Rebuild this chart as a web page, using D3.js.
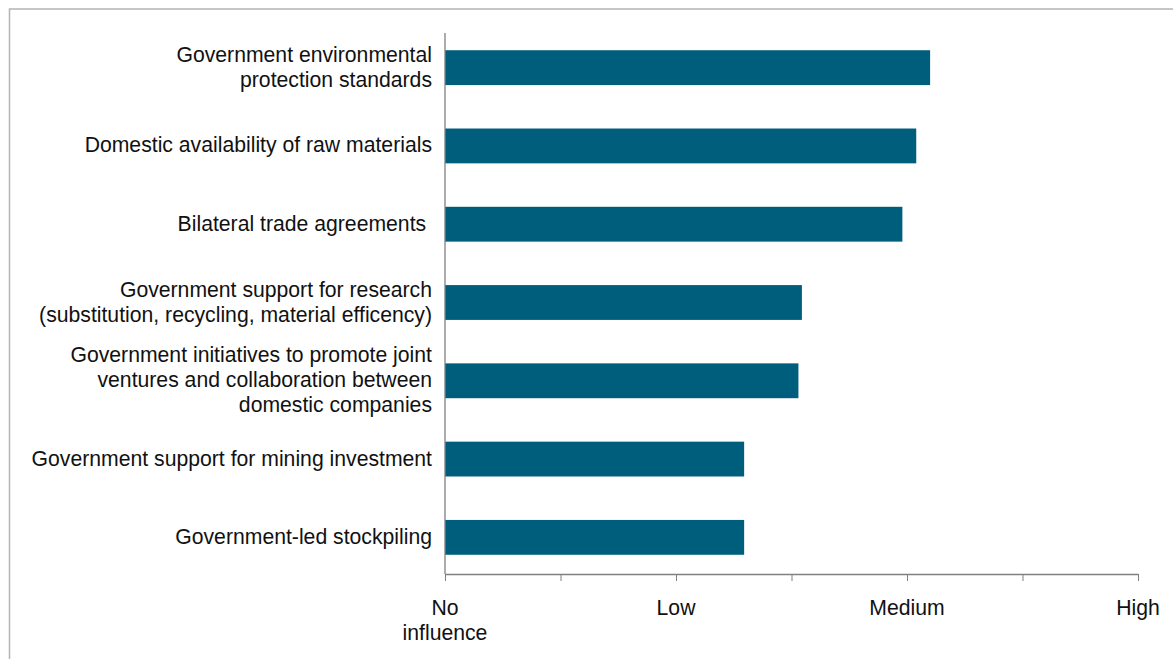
<!DOCTYPE html>
<html lang="en">
<head>
    <meta charset="UTF-8">
    <title>Policy influence</title>
    <script src="https://d3js.org/d3.v7.min.js"></script>
    <style>
        body { margin: 0; background: #fff; }
        text { font-family: "Liberation Sans", Arial, sans-serif; fill: #111; }
        .axis path, .axis line { stroke: #808080; }
    </style>
</head>
<body>
<script>
    const width = 1173;
    const height = 659;

    // categories (each entry = lines of the label), top to bottom
    const categories = [
        ["Government environmental", "protection standards"],
        ["Domestic availability of raw materials"],
        ["Bilateral trade agreements "],
        ["Government support for research", "(substitution, recycling, material efficency)"],
        ["Government initiatives to promote joint", "ventures and collaboration between", "domestic companies"],
        ["Government support for mining investment"],
        ["Government-led stockpiling"]
    ];
    // 0 = no influence, 1 = low, 2 = medium, 3 = high
    const values = [2.1, 2.04, 1.98, 1.545, 1.53, 1.295, 1.295];
    const tickValues = [0, 0.5, 1, 1.5, 2, 2.5, 3];
    const tickLabels = {0: ["No", "influence"], 1: ["Low"], 2: ["Medium"], 3: ["High"]};

    const fontSize = 21.2;

    const svg = d3.select("body").append("svg")
        .attr("width", width)
        .attr("height", height);

    // outer frame
    svg.append("rect")
        .attr("x", 9.5).attr("y", 9)
        .attr("width", width).attr("height", height)
        .attr("fill", "none")
        .attr("stroke", "#b4b4b4")
        .attr("stroke-width", 1.5);

    const x = d3.scaleLinear().domain([0, 3]).range([445, 1138]);
    const y = d3.scaleBand()
        .domain(d3.range(categories.length))
        .range([28.5, 576.5])
        .paddingInner(0.555)
        .paddingOuter(0.2775);

    const axisY = 574;

    svg.selectAll("rect.bar")
        .data(values)
        .enter().append("rect")
        .attr("class", "bar")
        .attr("x", x(0))
        .attr("y", (d, i) => y(i))
        .attr("width", d => x(d) - x(0))
        .attr("height", y.bandwidth())
        .attr("fill", "#005e7d");

    // x axis
    const xAxis = svg.append("g")
        .attr("class", "axis")
        .attr("transform", `translate(0,${axisY})`)
        .call(d3.axisBottom(x).tickValues(tickValues).tickSizeInner(7).tickSizeOuter(0).tickFormat(""));
    xAxis.select(".domain").attr("stroke-width", 1.3);

    svg.selectAll("text.xlab")
        .data(Object.keys(tickLabels))
        .enter().append("text")
        .attr("class", "xlab")
        .attr("text-anchor", "middle")
        .attr("font-size", fontSize)
        .attr("x", d => x(+d))
        .attr("y", 615)
        .selectAll("tspan")
        .data(d => tickLabels[d].map(t => ({t, k: +d})))
        .enter().append("tspan")
        .attr("x", d => x(d.k))
        .attr("dy", (d, i) => i ? 25 : 0)
        .text(d => d.t);

    // y axis line
    svg.append("line")
        .attr("x1", x(0)).attr("x2", x(0))
        .attr("y1", 33).attr("y2", axisY)
        .attr("stroke", "#808080")
        .attr("stroke-width", 1.3);

    // category labels
    const lineH = 25;
    svg.selectAll("text.ylab")
        .data(categories)
        .enter().append("text")
        .attr("class", "ylab")
        .attr("text-anchor", "end")
        .attr("font-size", fontSize)
        .style("white-space", "pre")
        .each(function (lines, i) {
            const cy = y(i) + y.bandwidth() / 2;
            const y0 = cy - (lines.length - 1) * lineH / 2 + 6.5;
            d3.select(this).selectAll("tspan")
                .data(lines)
                .enter().append("tspan")
                .attr("x", 432)
                .attr("y", (d, j) => y0 + j * lineH)
                .text(d => d);
        });
</script>
</body>
</html>
